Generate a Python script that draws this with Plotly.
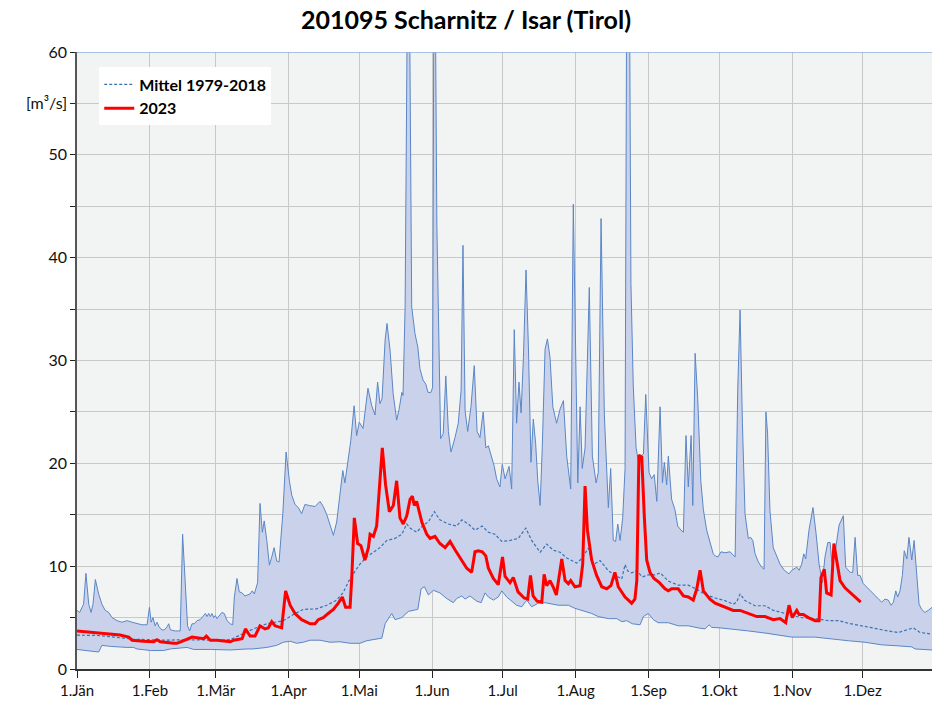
import plotly.graph_objects as go

# ---- data (day of year, 0 = 1 Jan) ----
max_day = [0, 1.1, 2.8, 3.8, 5.0, 6.0, 6.8, 7.8, 9.2, 10.6, 12.0, 13.5, 14.9, 17.0, 19.1, 21.3, 23.4, 25.5, 27.6, 29.8,
           30.8, 31.5, 32.3, 33.2, 34.0, 34.9, 36.1, 37.1, 38.3, 39.0, 39.7, 41.8, 43.9, 44.9, 46.0, 47.0, 47.9, 48.9, 49.9,
           51.0, 52.4, 53.9, 54.6, 55.3, 56.0, 56.7, 57.4, 58.1, 58.8, 59.5, 60.7, 61.6, 62.6, 63.8, 65.2, 66.2, 66.9, 68.0,
           69.0, 70.2, 71.4, 72.7, 73.6, 74.5, 75.4, 76.8, 77.8, 78.8, 79.6, 80.7, 81.8, 82.8, 83.8, 84.9, 85.9, 87.5, 88.9,
           90.3, 91.3, 92.7, 94.1, 95.5, 96.9, 98.8, 101.2, 103.3, 104.7, 106.2, 107.6, 109.0, 110.4, 111.8, 113.0, 113.9,
           115.3, 116.4, 117.8, 118.9, 120.0, 121.6, 123.7, 125.3, 126.7, 127.8, 128.8, 129.7, 131.0, 131.8, 133.1, 134.4,
           135.9, 136.9, 138.1, 138.6, 139.5, 140.2, 140.9, 142.3, 143.7, 144.9, 145.8, 147.1, 148.3, 149.2, 150.5, 151.2,
           151.9, 153.0, 154.6, 155.7, 156.8, 157.9, 159.0, 160.7, 162.1, 163.3, 164.1, 165.0, 166.1, 167.5, 168.9, 170.1,
           171.3, 172.7, 173.8, 174.9, 176.3, 177.4, 178.4, 179.8, 180.8, 182.0, 183.7, 184.8, 185.9, 186.9, 187.9, 188.8,
           189.8, 190.9, 191.9, 193.0, 194.0, 195.0, 195.9, 196.9, 197.8, 199.0, 200.0, 201.1, 202.3, 203.9, 205.4, 206.8,
           208.2, 209.9, 211.0, 212.2, 212.9, 213.9, 214.8, 216.0, 217.8, 219.1, 220.7, 221.6, 222.8, 224.2, 225.9, 226.9,
           228.0, 229.0, 229.9, 230.9, 232.0, 233.0, 233.9, 234.6, 235.5, 236.5, 237.7, 238.6, 239.8, 240.8, 241.8, 243.2,
           244.3, 245.4, 246.5, 247.9, 248.9, 249.7, 250.7, 251.4, 252.8, 254.2, 255.4, 256.8, 257.8, 258.9, 259.9, 261.1,
           261.8, 262.8, 263.9, 265.2, 266.3, 267.7, 269.1, 270.5, 271.3, 272.5, 273.8, 275.5, 277.6, 278.6, 279.8, 280.9,
           281.9, 282.9, 284.0, 285.4, 286.4, 287.3, 288.3, 289.7, 291.1, 292.1, 292.9, 293.6, 294.6, 296.0, 297.5, 298.9,
           300.7, 302.7, 303.9, 306.0, 307.0, 308.1, 309.0, 309.8, 311.2, 312.9, 314.2, 315.5, 316.9, 318.0, 319.2, 320.2,
           320.9, 322.6, 324.0, 325.8, 326.8, 328.7, 329.8, 330.8, 331.9, 332.9, 334.3, 336.4, 338.6, 340.7, 342.1, 343.5,
           344.9, 346.1, 347.1, 348.1, 348.9, 349.9, 350.9, 351.7, 352.8, 353.7, 354.9, 355.9, 356.9, 358.0, 359.1, 360.5,
           361.9, 363.5]
max_val = [5.7, 5.5, 6.3, 9.3, 6.3, 5.5, 6.3, 8.7, 7.3, 6.3, 5.7, 5.5, 5.0, 4.7, 4.55, 4.7, 4.55, 4.4, 4.3, 4.3,
           6.0, 4.55, 5.0, 4.2, 4.55, 4.1, 3.8, 3.8, 4.1, 4.4, 3.8, 3.7, 3.7, 13.1, 7.6, 4.2, 3.7, 4.4, 4.4,
           4.7, 4.8, 5.2, 5.4, 5.1, 5.4, 5.1, 5.4, 5.0, 5.2, 4.9, 5.2, 5.5, 5.4, 4.7, 4.4, 4.3, 7.0, 8.8,
           7.5, 7.4, 7.1, 7.2, 7.3, 7.6, 7.3, 8.4, 16.1, 13.3, 14.4, 12.5, 10.1, 10.9, 11.8, 10.5, 10.4, 15.1, 21.1,
           18.3, 16.9, 16.0, 15.7, 15.1, 16.0, 15.9, 15.8, 16.3, 15.8, 15.0, 14.0, 13.0, 14.3, 16.9, 19.3, 18.1,
           20.4, 22.2, 25.6, 22.7, 24.0, 23.4, 27.3, 25.6, 24.7, 27.9, 25.8, 26.3, 32.0, 33.6, 31.0, 26.8,
           24.2, 25.2, 26.9, 26.6, 35.2, 51.5, 80, 35.2, 32.6, 31.3, 29.2, 28.1, 27.7, 26.9, 26.9, 27.4,
           80, 43, 22.4, 22.9, 28.5, 23.1, 21.1, 22.5, 23.9, 27.1, 41.2, 25.1, 23.1, 25.5, 29.5, 23.1,
           22.5, 25.0, 21.5, 21.7, 20.5, 19.7, 18.5, 17.7, 19.9, 18.5, 19.7, 17.5, 33.0, 23.9, 27.9, 24.9,
           30.3, 38.8, 31.5, 20.1, 24.3, 21.9, 18.3, 15.9, 21.5, 31.1, 32.1, 30.3, 25.5, 23.9, 25.3, 26.1,
           20.7, 17.5, 45.2, 24.7, 18.1, 25.5, 19.5, 21.5, 37.1, 20.7, 18.1, 19.1, 43.8, 24.7, 15.7, 19.5,
           12.5, 12.4, 14.1, 12.5, 14.7, 19.5, 80, 80, 37.5, 27.5, 21.5, 20.3, 20.7, 20.9, 26.7, 19.1,
           18.5, 18.9, 16.3, 25.5, 18.1, 20.1, 17.9, 20.7, 16.5, 15.5, 13.9, 13.5, 13.3, 22.7, 17.7, 22.7,
           15.9, 30.7, 26.3, 18.3, 15.5, 13.5, 12.4, 11.2, 11.0, 10.9, 11.4, 11.3, 11.4, 11.2, 10.9, 27.1,
           34.9, 23.9, 15.1, 12.7, 12.8, 12.5, 11.2, 10.4, 9.9, 9.7, 25.0, 22.9, 15.4, 11.8, 10.9, 10.2,
           9.6, 9.25, 9.6, 9.9, 9.6, 10.2, 11.2, 10.7, 13.5, 15.7, 13.2, 10.2, 8.4, 10.9, 12.3, 12.3,
           10.4, 11.8, 14.0, 14.9, 9.9, 9.4, 9.4, 12.8, 9.1, 9.1, 8.3, 7.8, 7.3, 6.8, 6.5, 6.8,
           6.7, 6.2, 6.5, 7.6, 7.0, 7.6, 9.1, 11.5, 10.7, 12.8, 10.6, 12.5, 9.25, 6.3, 5.8, 5.5,
           5.7, 6.0]

min_day = [0, 4.3, 9.2, 10.6, 14.2, 21.3, 24.0, 25.5, 31.2, 36.8, 39.7, 46.8, 49.6, 56.7, 65.2, 72.3, 74.8, 80.7,
           84.9, 87.7, 90.6, 93.4, 96.2, 99.1, 103.3, 107.6, 111.8, 116.1, 120.3, 123.2, 127.4, 129.6, 131.0, 133.8,
           135.2, 138.1, 140.9, 144.9, 146.3, 147.7, 149.4, 151.5, 154.3, 157.2, 160.0, 161.4, 163.6, 165.0, 167.1,
           169.9, 171.8, 173.5, 174.9, 177.0, 179.1, 180.6, 182.7, 184.8, 186.9, 189.1, 191.2, 193.3, 196.1, 199.0,
           201.8, 204.6, 208.9, 211.7, 216.0, 218.8, 221.6, 225.9, 229.5, 231.6, 233.7, 236.1, 239.4, 240.8, 242.9,
           245.0, 247.1, 251.4, 255.6, 259.9, 264.1, 267.0, 268.7, 269.8, 273.4, 278.4, 285.4, 292.5, 299.6, 303.9,
           313.8, 320.9, 327.9, 335.0, 342.1, 349.2, 354.9, 356.3, 363.5]
min_val = [1.9, 1.8, 1.65, 2.3, 2.2, 2.1, 2.1, 1.95, 1.8, 1.8, 1.95, 2.1, 1.9, 1.9, 1.85, 1.95, 1.95, 2.1,
           2.3, 2.6, 2.7, 2.5, 2.6, 2.8, 2.8, 2.6, 2.65, 2.5, 2.5, 2.75, 2.9, 3.0, 4.4, 5.4,
           4.8, 5.0, 5.6, 5.8, 7.8, 8.0, 7.2, 7.65, 7.4, 6.85, 6.45, 6.85, 7.1, 6.8, 7.1,
           6.6, 6.45, 7.4, 7.0, 6.7, 7.0, 7.6, 7.0, 6.6, 6.2, 6.05, 6.7, 6.05, 6.4, 6.45,
           6.3, 6.2, 6.2, 5.9, 5.6, 5.4, 5.1, 4.9, 4.9, 4.6, 4.7, 4.4, 4.3, 5.1, 5.4,
           4.8, 4.5, 4.5, 4.2, 4.2, 4.0, 3.9, 4.3, 4.05, 4.0, 3.9, 3.7, 3.5, 3.25, 3.1,
           3.1, 2.9, 2.75, 2.6, 2.35, 2.25, 2.15, 1.95, 1.85]

mean_day = [0, 9.8, 23.8, 31.0, 38.1, 45.2, 52.3, 59.4, 65.1, 69.3, 75.0, 80.7, 87.7, 92.0, 96.2, 101.9, 106.2,
            110.4, 113.2, 116.1, 120.3, 123.2, 128.8, 131.7, 135.2, 138.1, 140.2, 141.6, 144.4, 147.2, 149.4, 151.9,
            154.3, 157.9, 161.4, 163.6, 166.4, 169.2, 172.3, 174.9, 177.7, 180.6, 184.1, 187.6, 190.8, 193.3, 196.9,
            199.7, 202.5, 205.4, 208.2, 210.3, 212.5, 214.6, 217.4, 219.5, 222.4, 225.9, 228.7, 231.6, 233.0, 234.1,
            235.8, 238.0, 240.3, 242.9, 245.7, 247.9, 251.4, 255.6, 259.9, 263.5, 267.0, 271.3, 275.5, 279.0, 280.4,
            281.9, 284.0, 288.3, 292.5, 296.0, 299.6, 303.9, 308.1, 313.8, 319.4, 323.7, 327.9, 333.6, 339.3, 344.9,
            349.2, 352.8, 355.6, 358.4, 363.5]
mean_val = [3.3, 3.25, 2.9, 2.85, 2.8, 2.85, 2.8, 2.8, 2.85, 3.3, 3.9, 4.4, 4.7, 5.3, 5.8, 5.85, 6.2,
            6.7, 7.45, 8.8, 10.2, 10.9, 11.8, 12.5, 12.7, 13.1, 14.1, 13.7, 13.3, 14.0, 14.3, 15.3,
            14.5, 14.1, 13.9, 14.5, 14.1, 13.5, 13.9, 13.3, 13.1, 12.4, 12.5, 12.7, 13.7, 12.5, 11.35,
            12.15, 11.55, 11.35, 10.8, 10.55, 10.3, 10.75, 11.75, 10.15, 10.55, 9.55, 9.15, 8.75, 10.15, 9.55,
            9.35, 9.55, 8.95, 9.15, 9.15, 9.35, 8.55, 8.15, 8.15, 7.75, 7.25, 6.9, 6.65, 6.3, 6.5,
            7.3, 6.65, 6.15, 6.15, 5.7, 5.5, 5.2, 5.0, 4.9, 4.7, 4.7, 4.45, 4.2, 3.9, 3.7,
            3.55, 3.8, 4.0, 3.55, 3.4]

y2023_day = [0, 8.5, 14.2, 18.3, 22.0, 23.4, 28.3, 32.6, 34.0, 35.4, 41.1, 42.5, 45.4, 48.9, 53.9, 55.0, 56.7, 59.5,
             65.2, 66.6, 70.2, 71.6, 73.6, 75.7, 77.8, 79.9, 81.3, 82.8, 84.2, 87.0, 88.7, 90.6, 92.7, 95.5, 99.1,
             101.2, 102.6, 104.7, 106.8, 109.0, 111.1, 112.8, 114.2, 116.1, 116.8, 117.9, 119.3, 120.7, 122.4, 123.9,
             124.6, 126.0, 127.4, 128.5, 129.8, 131.2, 132.8, 134.5, 135.9, 137.3, 138.7, 140.2, 141.6, 142.6, 143.4,
             144.4, 146.6, 148.7, 150.1, 152.2, 154.3, 156.5, 158.6, 160.7, 163.6, 165.7, 167.8, 169.2, 170.6, 172.3,
             173.8, 174.9, 177.0, 179.1, 180.9, 182.0, 184.1, 185.5, 187.5, 190.1, 191.6, 192.8, 193.9, 195.6, 197.6,
             198.6, 199.7, 201.1, 202.4, 203.8, 206.1, 207.5, 208.9, 209.9, 211.7, 213.9, 215.0, 216.0, 217.0, 218.8,
             220.9, 223.1, 225.2, 227.0, 228.7, 230.1, 233.0, 235.8, 237.2, 238.0, 238.9, 240.1, 241.2, 242.2, 243.6,
             245.3, 247.6, 250.0, 251.4, 252.8, 255.6, 257.8, 259.9, 262.0, 263.5, 264.9, 266.3, 269.1, 271.3, 273.4,
             275.5, 279.0, 281.9, 285.4, 289.0, 292.5, 296.0, 298.9, 301.3, 302.7, 304.1, 306.0, 307.0, 308.8, 310.9,
             313.8, 315.5, 316.3, 317.7, 318.7, 320.6, 321.8, 323.0, 324.4, 326.5, 329.4, 331.5, 333.2]
y2023_val = [3.7, 3.5, 3.35, 3.3, 3.1, 2.8, 2.7, 2.65, 2.85, 2.65, 2.5, 2.5, 2.75, 3.1, 2.95, 3.2, 2.8, 2.8,
             2.65, 2.8, 2.95, 3.9, 3.2, 3.2, 4.2, 3.9, 4.0, 4.6, 4.2, 4.0, 7.6, 6.2, 5.4, 4.8, 4.4,
             4.4, 4.8, 5.0, 5.4, 5.8, 6.4, 7.0, 6.0, 6.0, 8.8, 14.7, 12.2, 12.0, 10.6, 11.8,
             13.1, 12.9, 13.9, 17.5, 21.5, 17.9, 15.3, 15.9, 18.3, 14.7, 14.1, 14.9, 16.5, 16.8, 15.9,
             16.3, 14.3, 13.1, 12.7, 12.9, 12.2, 11.8, 12.4, 11.6, 10.6, 9.8, 9.4, 11.4, 11.5, 11.4,
             11.0, 9.8, 8.8, 8.2, 10.9, 9.0, 8.4, 8.9, 7.5, 6.9, 6.8, 9.1, 7.1, 6.6, 6.5,
             9.2, 8.1, 8.6, 8.0, 7.2, 10.7, 8.6, 8.3, 8.6, 8.0, 8.1, 10.2, 17.8, 13.5, 10.6,
             9.1, 8.0, 7.8, 8.1, 9.4, 8.0, 7.0, 6.4, 6.8, 8.6, 20.8, 20.6, 14.8, 10.6, 9.4,
             8.8, 8.4, 7.8, 7.6, 7.8, 7.8, 7.1, 7.0, 6.7, 7.8, 9.6, 7.6, 6.8, 6.4, 6.2,
             6.0, 5.7, 5.7, 5.4, 5.1, 5.1, 4.8, 4.9, 4.5, 6.2, 5.0, 5.7, 5.3, 5.3, 5.0,
             4.7, 4.7, 8.9, 9.7, 7.4, 7.2, 12.2, 10.5, 8.6, 7.9, 7.3, 6.8, 6.5]

month_starts = [0, 31, 59, 90, 120, 151, 181, 212, 243, 273, 304, 334]
month_labels = ["1.Jän", "1.Feb", "1.Mär", "1.Apr", "1.Mai", "1.Jun",
                "1.Jul", "1.Aug", "1.Sep", "1.Okt", "1.Nov", "1.Dez"]
y_ticks = [0, 5, 10, 15, 20, 25, 30, 35, 40, 45, 50, 55, 60]
y_labels = ["0", "", "10", "", "20", "", "30", "", "40", "", "50", "[m³/s]", "60"]

FONT = "Lato"
BAND_LINE = "#5a86c6"

fig = go.Figure()

# min-max band
fig.add_trace(go.Scatter(
    x=max_day + min_day[::-1], y=max_val + min_val[::-1],
    fill="toself", fillcolor="#c9d2ea", line=dict(width=0),
    mode="lines", showlegend=False, hoverinfo="skip"))
fig.add_trace(go.Scatter(x=max_day, y=max_val, mode="lines",
                         line=dict(color=BAND_LINE, width=1), showlegend=False))
fig.add_trace(go.Scatter(x=min_day, y=min_val, mode="lines",
                         line=dict(color=BAND_LINE, width=1), showlegend=False))
fig.add_trace(go.Scatter(x=mean_day, y=mean_val, mode="lines", name="Mittel 1979-2018",
                         line=dict(color="#3a72b4", width=1.2, dash="3px,2px")))
fig.add_trace(go.Scatter(x=y2023_day, y=y2023_val, mode="lines", name="2023",
                         line=dict(color="#ff0000", width=3)))

fig.add_shape(type="line", xref="paper", yref="y", x0=0, x1=1, y0=60, y1=60,
              line=dict(color="#8eb0dc", width=1.5))

fig.update_layout(
    width=932, height=707,
    margin=dict(l=77, r=0, t=52, b=38),
    paper_bgcolor="white", plot_bgcolor="#f2f4f4",
    font=dict(family=FONT, size=15, color="#111"),
    title=dict(text="<b>201095 Scharnitz / Isar (Tirol)</b>", x=0.5, xref="container",
               y=0.972, yanchor="middle", xanchor="center",
               font=dict(family=FONT, size=25, color="#000")),
    showlegend=True,
    legend=dict(x=0.026, y=0.975, xanchor="left", yanchor="top",
                bgcolor="white", borderwidth=0,
                font=dict(family=FONT, size=16, color="#000", weight="bold"),
                tracegroupgap=0, itemwidth=30),
    xaxis=dict(range=[0, 363.5], tickmode="array", tickvals=month_starts, ticktext=month_labels,
               showgrid=True, gridcolor="#c8c8c8", gridwidth=1,
               ticks="outside", ticklen=7, tickcolor="#222", tickwidth=1.3,
               showline=True, linecolor="#333", linewidth=1.5, zeroline=False,
               tickfont=dict(size=15, color="#111")),
    yaxis=dict(range=[0, 60], tickmode="array", tickvals=y_ticks, ticktext=y_labels,
               showgrid=True, gridcolor="#c8c8c8", gridwidth=1,
               ticks="outside", ticklen=5, tickcolor="#222", tickwidth=1.3,
               showline=True, linecolor="#555", linewidth=1.5, zeroline=False,
               tickfont=dict(size=16, color="#111")),
)

fig.write_html("out.html", config={"displayModeBar": False},
               post_script="document.body.style.margin='0';document.body.style.overflow='hidden';")
